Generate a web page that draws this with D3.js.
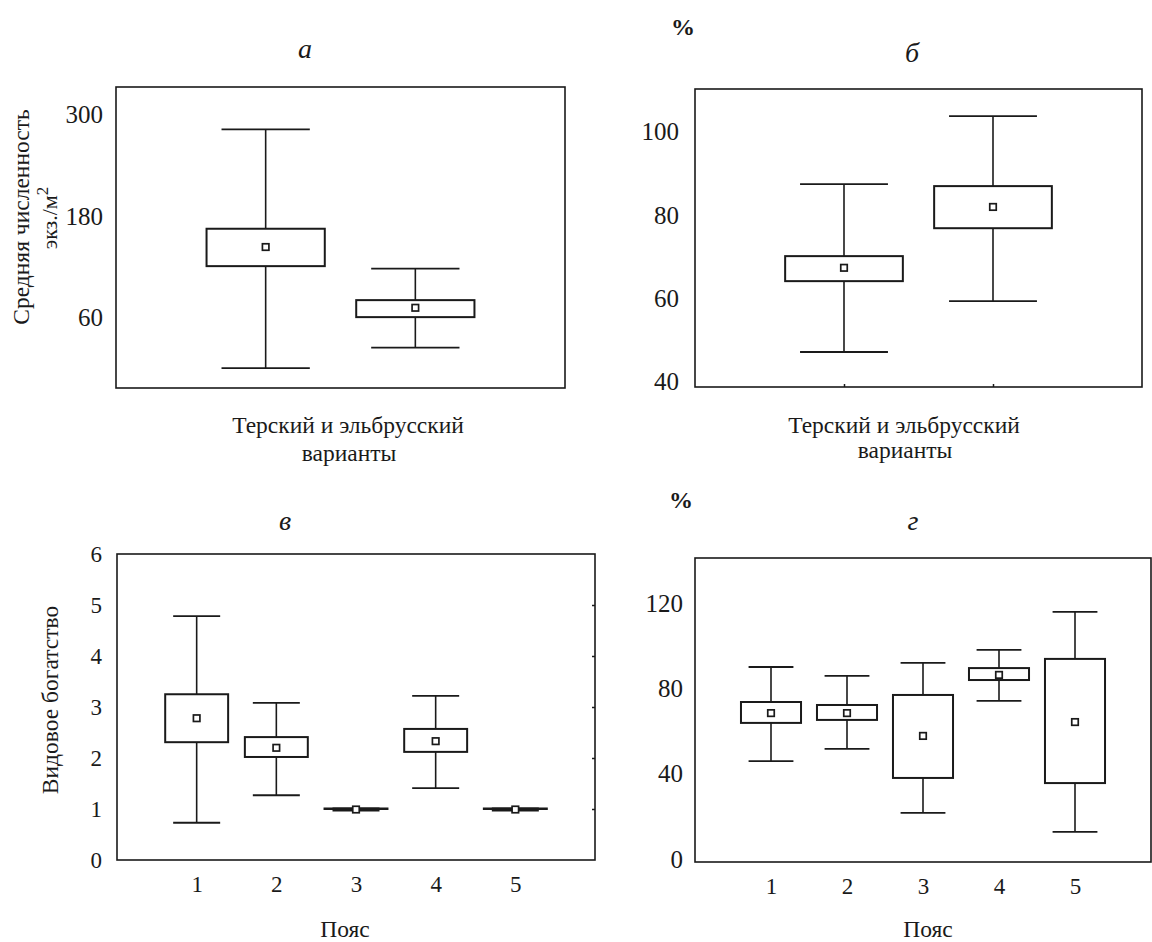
<!DOCTYPE html>
<html>
<head>
<meta charset="utf-8">
<script src="https://cdn.jsdelivr.net/npm/d3@7"></script>
<style>
  body { margin: 0; background: #fff; }
  svg { display: block; }
  text { font-family: "Liberation Serif", "Times New Roman", Tinos, "DejaVu Serif", serif; fill: #1a1a1a; }
</style>
</head>
<body>
<svg id="chart" width="1152" height="942"></svg>
<script>
// а — средняя численность, экз./м2
var variants = ["Терский", "Эльбрусский"];
var aMin  = [1, 25];
var aQ1   = [121, 61];
var aMean = [143.5, 72];
var aQ3   = [165, 81];
var aMax  = [282, 118];
var aTicks = [60, 180, 300];

// б — %
var bMin  = [47.2, 59.4];
var bQ1   = [64.2, 76.9];
var bMean = [67.4, 82];
var bQ3   = [70.2, 87];
var bMax  = [87.5, 103.8];
var bTicks = [40, 60, 80, 100];

// в — видовое богатство по поясам
var belts = ["1", "2", "3", "4", "5"];
var cMin  = [0.73, 1.27, 0.97, 1.41, 0.97];
var cQ1   = [2.31, 2.02, 1.0, 2.12, 1.0];
var cMean = [2.78, 2.2, 0.99, 2.33, 0.99];
var cQ3   = [3.25, 2.41, 1.01, 2.57, 1.01];
var cMax  = [4.78, 3.08, 1.01, 3.22, 1.01];
var cTicks = [0, 1, 2, 3, 4, 5, 6];

// г — % по поясам
var dMin  = [45.9, 51.6, 21.6, 74.1, 12.7];
var dQ1   = [63.8, 65.2, 38, 83.9, 35.6];
var dMean = [68.4, 68.4, 57.7, 86.3, 64.2];
var dQ3   = [73.6, 72.2, 76.9, 89.5, 93.8];
var dMax  = [90, 85.8, 91.9, 98, 115.8];
var dTicks = [0, 40, 80, 120];

var ink = "#1a1a1a";
var serif = '"Liberation Serif", "Times New Roman", Tinos, "DejaVu Serif", serif';
var svg = d3.select("#chart");

// builds box rows from the arrays
function rows(cats, mn, q1, mean, q3, mx) {
  return cats.map(function(c, i) {
    return {cat: c, min: mn[i], q1: q1[i], mean: mean[i], q3: q3[i], max: mx[i]};
  });
}

var panels = [
  {frame: [116, 87, 565, 388], yDomain: [-22.4, 331.8], ticks: aTicks, cats: variants,
   data: rows(variants, aMin, aQ1, aMean, aQ3, aMax), fontSize: 25, pad: 13},
  {frame: [695, 89, 1142, 387], yDomain: [38.8, 110.3], ticks: bTicks, cats: variants,
   data: rows(variants, bMin, bQ1, bMean, bQ3, bMax), fontSize: 25, pad: 16, bottomTicks: true},
  {frame: [117, 554, 595, 860], yDomain: [0, 6], ticks: cTicks, cats: belts,
   data: rows(belts, cMin, cQ1, cMean, cQ3, cMax), fontSize: 23, pad: 15, xLabels: true, rightTicks: [1, 2, 3, 4, 5]},
  {frame: [695, 558, 1151, 862], yDomain: [-1.4, 141.1], ticks: dTicks, cats: belts,
   data: rows(belts, dMin, dQ1, dMean, dQ3, dMax), fontSize: 25, pad: 12, xLabels: true}
];

panels.forEach(function(p) {
  var left = p.frame[0], top = p.frame[1], right = p.frame[2], bottom = p.frame[3];

  var x = d3.scalePoint()
      .domain(p.cats)
      .range([left, right])
      .padding(1);
  var y = d3.scaleLinear()
      .domain(p.yDomain)
      .range([bottom, top]);

  var step = x.step();
  var boxW = step * 0.79, capW = step * 0.59;

  var g = svg.append("g");

  // y tick labels, no tick marks
  var yAxis = g.append("g")
      .attr("transform", "translate(" + left + ",0)")
      .call(d3.axisLeft(y).tickValues(p.ticks).tickSize(0).tickPadding(p.pad).tickFormat(d3.format("d")));
  yAxis.attr("font-family", null).attr("font-size", null);
  yAxis.select(".domain").remove();
  yAxis.selectAll("text").style("font-size", p.fontSize + "px").attr("fill", ink)
      .style("font-family", serif);

  if (p.xLabels) {
    var xAxis = g.append("g")
        .attr("transform", "translate(0," + bottom + ")")
        .call(d3.axisBottom(x).tickSize(0).tickPadding(16));
    xAxis.attr("font-family", null).attr("font-size", null);
    xAxis.select(".domain").remove();
    xAxis.selectAll("text").style("font-size", "23px").attr("fill", ink)
        .style("font-family", serif);
  }

  if (p.bottomTicks) {
    var bt = g.append("g")
        .attr("transform", "translate(0," + bottom + ")")
        .call(d3.axisBottom(x).tickSize(-3).tickFormat(""));
    bt.select(".domain").remove();
    bt.selectAll("line").attr("stroke", ink).attr("stroke-width", 1.5);
  }

  if (p.rightTicks) {
    var rt = g.append("g")
        .attr("transform", "translate(" + right + ",0)")
        .call(d3.axisRight(y).tickValues(p.rightTicks).tickSize(-3).tickFormat(""));
    rt.select(".domain").remove();
    rt.selectAll("line").attr("stroke", ink).attr("stroke-width", 1.5);
  }

  // frame
  g.append("rect")
      .attr("x", left).attr("y", top)
      .attr("width", right - left).attr("height", bottom - top)
      .attr("fill", "none").attr("stroke", ink).attr("stroke-width", 1.6);

  var box = g.selectAll(".box")
      .data(p.data)
    .enter().append("g")
      .attr("class", "box")
      .attr("transform", function(d) { return "translate(" + x(d.cat) + ",0)"; });

  box.append("line")
      .attr("y1", function(d) { return y(d.max); })
      .attr("y2", function(d) { return y(d.min); })
      .attr("stroke", ink).attr("stroke-width", 1.6);

  box.append("line")
      .attr("x1", -capW / 2).attr("x2", capW / 2)
      .attr("y1", function(d) { return y(d.max); })
      .attr("y2", function(d) { return y(d.max); })
      .attr("stroke", ink).attr("stroke-width", 1.8);

  box.append("line")
      .attr("x1", -capW / 2).attr("x2", capW / 2)
      .attr("y1", function(d) { return y(d.min); })
      .attr("y2", function(d) { return y(d.min); })
      .attr("stroke", ink).attr("stroke-width", 1.8);

  box.append("rect")
      .attr("x", -boxW / 2)
      .attr("y", function(d) { return y(d.q3); })
      .attr("width", boxW)
      .attr("height", function(d) { return Math.max(0.5, y(d.q1) - y(d.q3)); })
      .attr("fill", "#fff").attr("stroke", ink).attr("stroke-width", 2);

  box.append("rect")
      .attr("x", -3.25)
      .attr("y", function(d) { return y(d.mean) - 3.25; })
      .attr("width", 6.5).attr("height", 6.5)
      .attr("fill", "#fff").attr("stroke", ink).attr("stroke-width", 1.7);
});

// titles and axis captions
function label(txt, xx, yy, size, opts) {
  opts = opts || {};
  var t = svg.append("text")
      .attr("x", xx).attr("y", yy)
      .attr("text-anchor", "middle")
      .style("font-size", size + "px")
      .text(txt);
  if (opts.italic) t.style("font-style", "italic");
  if (opts.bold) t.style("font-weight", "bold");
  if (opts.rotate) t.attr("transform", "rotate(-90," + xx + "," + yy + ")");
  return t;
}

label("а", 305, 58, 28, {italic: true});
label("б", 912, 62, 28, {italic: true});
label("в", 285, 530, 28, {italic: true});
label("г", 913, 530, 28, {italic: true});
label("%", 683, 35, 24, {bold: true});
label("%", 681, 508, 24, {bold: true});

label("Терский и эльбрусский", 348, 433, 23.5);
label("варианты", 349, 461, 23.5);
label("Терский и эльбрусский", 904, 433, 23.5);
label("варианты", 905, 458, 23.5);
label("Пояс", 345, 937, 23.5);
label("Пояс", 928, 937, 23.5);

label("Средняя численность", 29, 217, 23.5, {rotate: true});
var unit = label("экз./м", 57, 218, 22, {rotate: true});
unit.append("tspan").attr("dy", -9).style("font-size", "17px").text("2");
label("Видовое богатство", 58, 700, 23.5, {rotate: true});
</script>
</body>
</html>
